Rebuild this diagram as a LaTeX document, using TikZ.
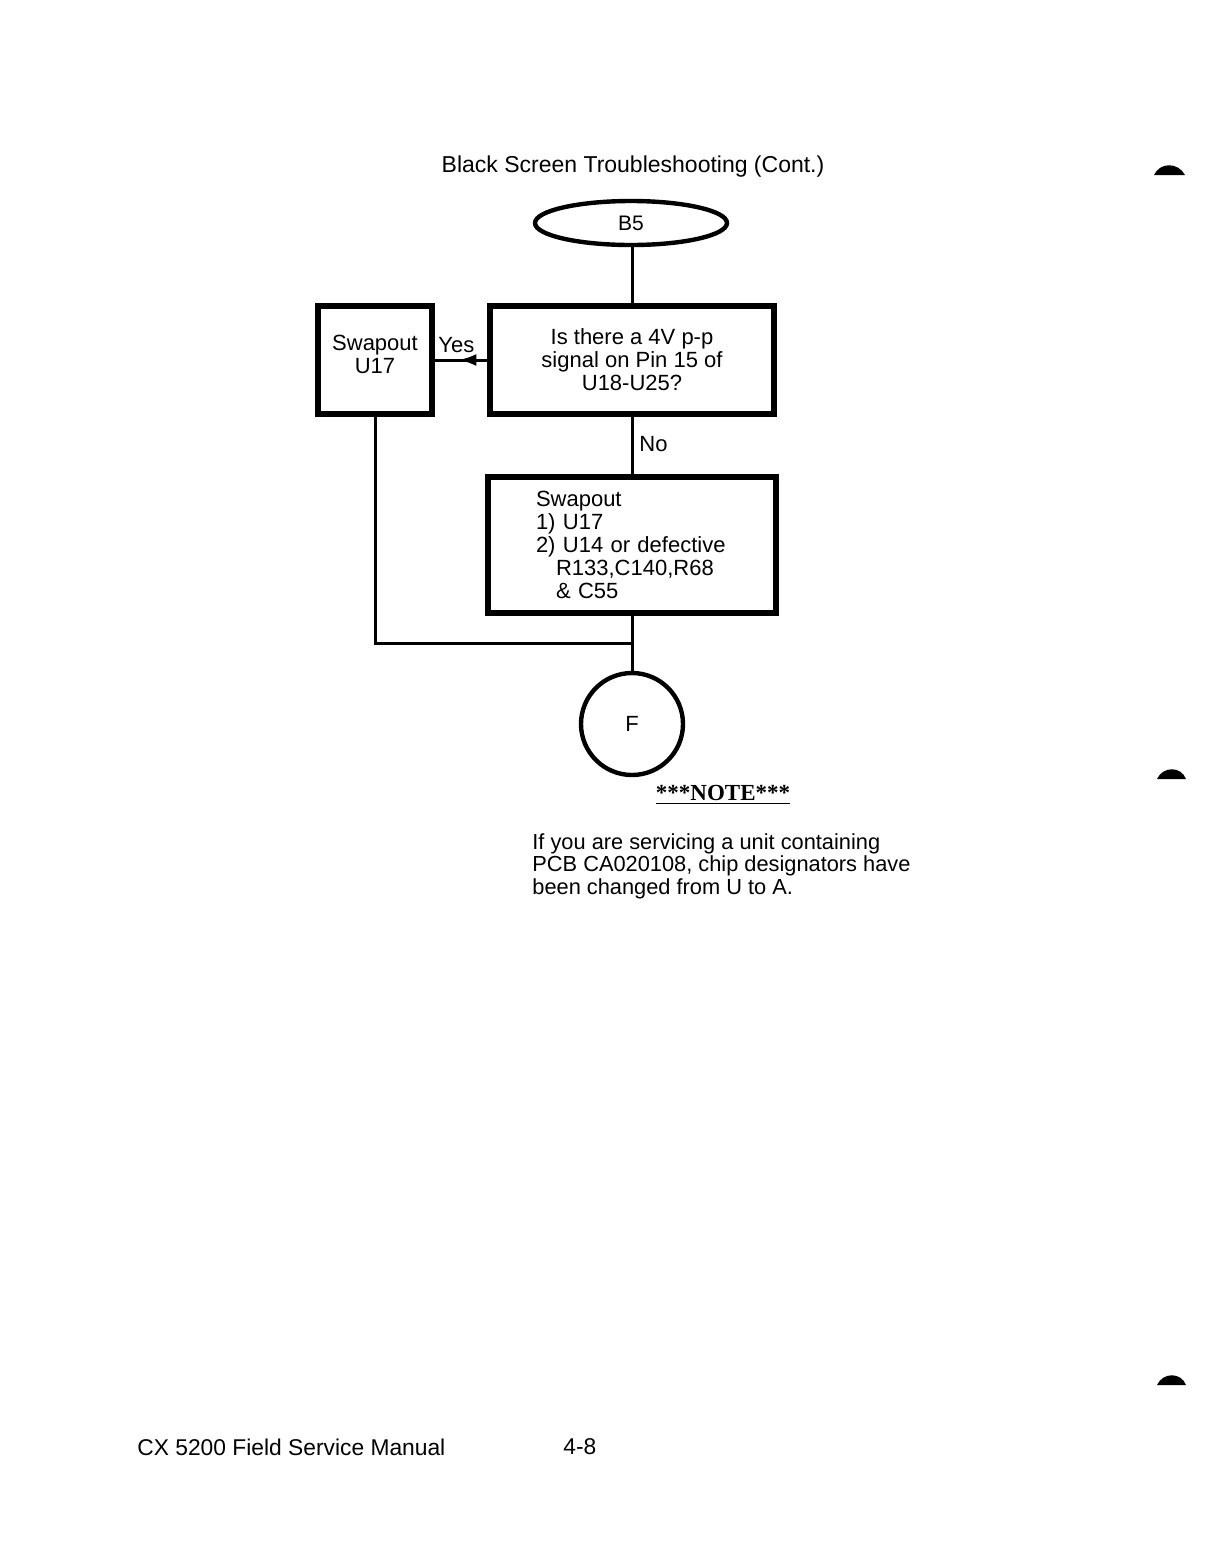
\documentclass[tikz,border=0pt]{standalone}
\usepackage{fontspec}
\setmainfont{Liberation Sans}
\newfontfamily\notefont{Liberation Serif}
\usetikzlibrary{shapes.geometric,arrows.meta,decorations.markings}
\begin{document}
\begin{tikzpicture}[x=0.5pt,y=-0.5pt,
  thickbox/.style={draw, line width=2.6pt, rectangle, inner sep=0pt, font=\fontsize{11}{11.5}\selectfont},
  conn/.style={line width=1.5pt},
  label/.style={inner sep=0pt, font=\fontsize{11}{11.5}\selectfont},
  midarrow/.style={postaction={decorate}, decoration={markings, mark=at position 0.55 with {\arrow{Latex[length=9pt,width=6pt]}}}},
  bindermark/.style={fill=black}
]
\useasboundingbox (0,0) rectangle (1220,1564);

% title
\node[label, font=\fontsize{11.5}{13}\selectfont] (title) at (633,167) {Black Screen Troubleshooting (Cont.)};

% nodes
\node[draw, ellipse, line width=2.2pt, minimum width=96pt, minimum height=22pt, inner sep=0pt, font=\fontsize{10.5}{12}\selectfont] (b5) at (631,223) {B5};
\node[thickbox, minimum width=142pt, minimum height=54pt, align=center] (q) at (632,360) {Is there a 4V p-p\\signal on Pin 15 of\\U18-U25?};
\node[thickbox, minimum width=57pt, minimum height=54pt, align=center] (s) at (375,360) {Swapout\\U17\\[-6pt]\mbox{}};
\node[thickbox, minimum height=68pt, text width=96pt, inner xsep=24pt, align=left] (b2) at (632,545) {Swapout\\1) U17\\2) U14 or defective\\\hspace*{10pt}R133,C140,R68\\\hspace*{10pt}\& C55};
\node[draw, circle, line width=2.2pt, minimum size=51pt, inner sep=0pt, font=\fontsize{11}{12}\selectfont] (f) at (632,724) {F};

% connectors
\draw[conn] (b5.south -| q.north) -- (q.north);
\draw[conn, midarrow] (q.west) -- (s.east);
\node[label, anchor=west] (yes) at (438,345) {Yes};
\draw[conn] (q.south) -- (b2.north);
\node[label, anchor=west] (no) at (639,444) {No};
\coordinate (j) at (632,643);
\draw[conn] (b2.south) -- (f.north);
\draw[conn] (s.south) |- (j);

% note
\node[label, font=\notefont\bfseries\fontsize{11.5}{12}\selectfont] (note) at (723,795) {\underline{***NOTE***}};
\node[label, anchor=north west, align=left, font=\fontsize{10.9}{11.3}\selectfont] (notetext) at (532,833) {If you are servicing a unit containing\\PCB CA020108, chip designators have\\been changed from U to A.};

% footer
\node[label, anchor=west, font=\fontsize{11.4}{13}\selectfont] (foot) at (137,1447) {CX 5200 Field Service Manual};
\node[label, anchor=west, font=\fontsize{11.4}{13}\selectfont] (page) at (563,1447) {4-8};

% binder marks
\fill[bindermark] (1154,175) .. controls (1160,162) and (1178,162) .. (1185,175) -- cycle;
\fill[bindermark] (1157,779) .. controls (1163,766) and (1181,766) .. (1186,779) -- cycle;
\fill[bindermark] (1157,1385) .. controls (1163,1372) and (1181,1372) .. (1186,1385) -- cycle;
\end{tikzpicture}
\end{document}
